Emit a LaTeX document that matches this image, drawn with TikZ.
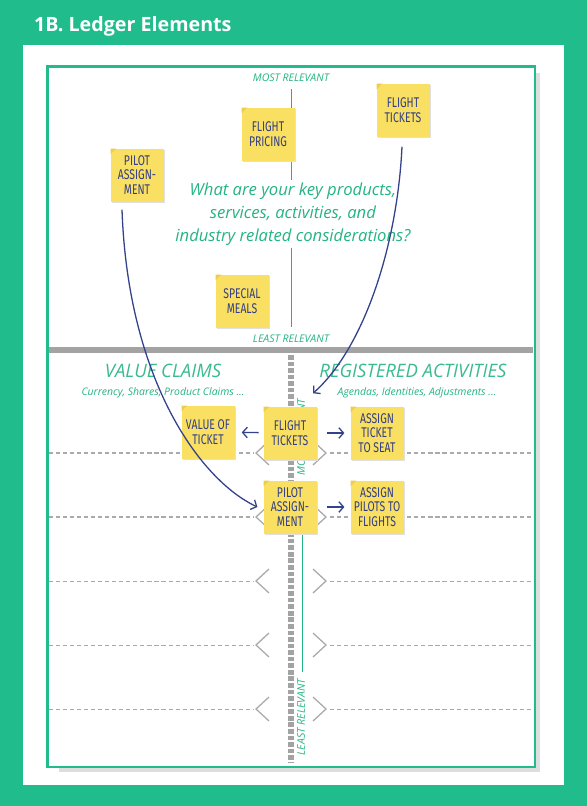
\documentclass[tikz,border=0pt]{standalone}
\usepackage{fontspec}
\setmainfont{Open Sans}
\newfontfamily\notefont[FakeStretch=0.74]{Fira Sans}
\usetikzlibrary{arrows.meta,positioning,calc,shadows}

\definecolor{ledgergreen}{RGB}{32,188,140}
\definecolor{ledgertext}{RGB}{36,180,130}
\definecolor{noteyellow}{RGB}{250,224,98}
\definecolor{notefold}{RGB}{236,206,78}
\definecolor{notenavy}{RGB}{50,62,132}
\definecolor{linknavy}{RGB}{52,66,140}
\definecolor{bargray}{RGB}{163,163,163}
\definecolor{rowgray}{RGB}{170,170,170}

\begin{document}
\begin{tikzpicture}[x=0.03cm, y=-0.03cm,
                    note/.style = {rectangle, fill=noteyellow, minimum size=1.59cm, inner sep=1pt,
                            align=center, text=notenavy, font=\notefont\fontsize{12}{12.4}\selectfont,
                            drop shadow={shadow xshift=1.4pt, shadow yshift=-1.4pt, fill=black!12, opacity=1},
                            path picture={\fill[notefold] (path picture bounding box.north west) -- ++(5pt,0) -- ++(-5pt,-5pt) -- cycle;}},
                    relevance/.style = {text=ledgertext, font=\itshape\fontsize{9}{10}\selectfont, inner sep=1pt},
                    heading/.style = {text=ledgertext!90, font=\itshape\fontsize{15.8}{18}\selectfont},
                    subheading/.style = {text=ledgertext, font=\itshape\fontsize{8.9}{10}\selectfont},
                    question/.style = {text=ledgertext, align=center, fill=white, inner sep=2pt,
                            font=\itshape\fontsize{14.2}{19.6}\selectfont},
                    link/.style = {draw=linknavy, line width=1.1pt, -{Straight Barb[length=4pt,width=9pt]}},
                    rowline/.style = {draw=rowgray, dash pattern=on 3.5pt off 2.5pt},
                    chevron/.style = {draw=rowgray, line width=1.1pt}]

                % page and frame
                \fill[ledgergreen] (0,0) rectangle (587,806);
                \fill[white] (23,45) rectangle (564,785);
                \fill[black!13] (59,73) rectangle (540,772);
                \draw[ledgergreen, line width=2.2pt, fill=white] (47.5,66.5) rectangle (535,767);
                \node [anchor=base west, text=white, font=\bfseries\fontsize{16.8}{20}\selectfont, inner sep=0pt] (title) at (34,31) {1B. Ledger Elements};

                % upper part: ranking of elements
                \coordinate (mostTop) at (291,89);
                \coordinate (leastTop) at (291,327);
                \draw[ledgertext, line width=0.8pt] (mostTop) -- (leastTop);
                \node [relevance] (mostLabel) at (291,78) {MOST RELEVANT};
                \node [relevance] (leastLabel) at (291,338.5) {LEAST RELEVANT};
                \node [question] (question) at (293,214) {What are your key products,\\services, activities, and\\industry related considerations?};

                % lower part: rows
                \draw[bargray, line width=4.4pt] (49,350) -- (533,350);
                \draw[bargray, line width=5pt, dash pattern=on 4pt off 1.6pt] (291,355) -- (291,763);
                \foreach \row/\w in {453/1.6pt, 517/1.6pt, 581/0.8pt, 645/0.8pt, 709/0.8pt} {
                    \draw[rowline, line width=\w] (49,\row) -- (253,\row);
                    \draw[rowline, line width=\w] (330,\row) -- (533,\row);
                    \draw[chevron] (269,\row-12) -- (256,\row) -- (269,\row+12);
                    \draw[chevron] (313,\row-12) -- (326,\row) -- (313,\row+12);
                }
                \coordinate (mostBottom) at (302,482);
                \coordinate (leastBottom) at (302,672);
                \draw[ledgertext, line width=0.8pt] (mostBottom) -- (leastBottom);
                \node [relevance, rotate=90] (mostSide) at (301,437) {MOST RELEVANT};
                \node [relevance, rotate=90] (leastSide) at (301,717) {LEAST RELEVANT};

                \node [heading] (valueClaims) at (163,371) {VALUE CLAIMS};
                \node [heading] (registered) at (413,371) {REGISTERED ACTIVITIES};
                \node [subheading] (valueSub) at (163,393) {Currency, Shares, Product Claims ...};
                \node [subheading] (registeredSub) at (417,393) {Agendas, Identities, Adjustments ...};

                % sticky notes
                \node [note] (pricingTop) at (268,134) {FLIGHT\\PRICING};
                \node [note] (ticketsTop) at (403,110) {FLIGHT\\TICKETS};
                \node [note] (pilotTop) at (137,175) {PILOT\\ASSIGN-\\MENT};
                \node [note] (mealsTop) at (242,301) {SPECIAL\\MEALS};

                \node [note] (valueTicket) at (208,432) {VALUE OF\\TICKET};
                \node [note] (ticketsRow) at (290,433) {FLIGHT\\TICKETS};
                \node [note] (seatRow) at (377,433) {ASSIGN\\TICKET\\TO SEAT};
                \node [note] (pilotRow) at (290,507) {PILOT\\ASSIGN-\\MENT};
                \node [note] (flightsRow) at (377,507) {ASSIGN\\PILOTS TO\\FLIGHTS};

                % connectors
                \draw[link, shorten <=4pt, shorten >=6pt] (ticketsRow) -- (valueTicket);
                \draw[link, shorten <=9pt, shorten >=5pt] (ticketsRow) -- (seatRow);
                \draw[link, shorten <=9pt, shorten >=5pt] (pilotRow) -- (flightsRow);
                \draw[link] ([shift={(-15,8)}]pilotTop.south) .. controls (128,380) and (200,480) .. ([xshift=-5pt]pilotRow.west);
                \draw[link] ([shift={(-1,10)}]ticketsTop.south) .. controls (397,250) and (362,350) .. ([shift={(23,-13)}]ticketsRow.north);
\end{tikzpicture}
\end{document}
